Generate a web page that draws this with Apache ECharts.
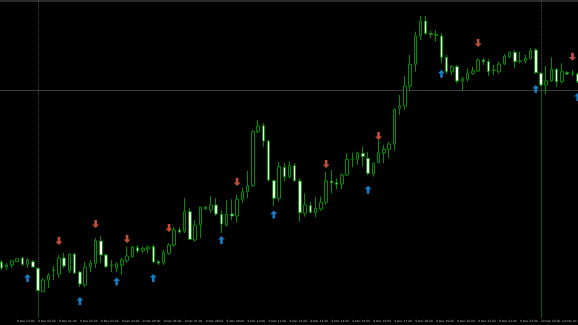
<!DOCTYPE html>
<html>
<head>
<meta charset="utf-8">
<script src="https://cdn.jsdelivr.net/npm/echarts@6/dist/echarts.min.js"></script>
<style>
html,body{margin:0;padding:0;background:#000;}
#chart{width:578px;height:325px;}
</style>
</head>
<body>
<div id="chart"></div>
<script>
// M15 candles: [open, close, low, high]
const candles = [
[63,57,55,65],[58,60,55,62],[60,64,57,65],[63.3,66.3,63,67],[67,60.7,59,68],
[60.7,65,57,67],[63.3,58,57,65],[56.7,34.3,34,58],[33.3,45,33,47],[45,50,37,52],
[54.5,55,45,59],[51,67,47,70],[67,59,57,72],[54,71,52,72],[71,52,51,72],
[53,41,38,54],[40,58,38,63],[58,62,53,65],[61.7,84.3,57,87],[84,70,62,89],
[70,58.3,57,71],[59.5,60,53,65],[57,61,53,63],[60,65,50,67],[64.3,69,62,78.3],
[68.3,78,67.5,79],[77.3,74,72,80],[74.3,76.7,71.7,78.3],[76,78,71.7,79.3],[78.3,63,61.7,80],
[63.3,61.7,60,65],[62.3,72.3,60,75],[71.7,80,70,81.7],[80,95,78.3,98.3],[95,93,91.7,97.7],
[94,113.3,92,127],[113.3,85.7,85,116.7],[85,100,83.3,105],[100,118,87,118.3],[117.5,116.5,115,119],
[115,120,112,129],[120,111,109,126.7],[110.7,101,92,115],[100,110.7,98.3,125],[111,109,105,125.7],
[109,125.7,102.3,130],[125.7,133.3,122,137.3],[133.3,139.3,127,154],[139.3,193.3,138.3,195],[193.3,199,191.7,205],
[199.3,184,178,201.7],[184,145,143.3,185],[144.3,126.7,119,145],[126.7,158.3,123.3,163.3],[157.7,148.3,143.3,161.7],
[148.3,159.3,146.7,163.3],[159.3,144.3,143.3,161.7],[144,112.3,103.3,146.7],[111.7,120,108.3,131.7],[119.3,112.7,111.7,123.3],
[112.3,116.7,107.7,127.7],[116,122.7,114.3,128.3],[122.7,144,120,153.3],[144,142.3,131.7,155],[142.3,140.7,135.7,146.7],
[141,150,135.7,151.7],[150,165.7,149,171.7],[165.7,166,157.7,172.3],[165.7,171.7,160,173.3],[171.7,168.3,158.3,178.3],
[166.7,151.7,150,173.3],[151,161.7,148.3,162.3],[162.3,172.3,161.7,185],[172.3,175.7,161.7,180],[175.7,181,166.7,183.3],
[181,215.7,175,216.7],[216.7,219,210,230],[219,239,215,249],[239,260.7,235,270],[260.7,289,253.3,293.3],
[289,304,285,309],[304,291.7,290,309],[291.7,290.7,286.7,294.3],[290.5,289.7,283.3,295],[289,267.7,261.7,291.7],
[267.7,253.3,251,270],[253.3,258.3,250,260],[258.3,244,241.7,260],[244,246,234.3,248.3],[245.7,251.7,243.3,256.7],
[251.7,254,250,258.3],[254,265,253.3,266.7],[265,263.3,260,266.7],[263.3,253.3,249,265.7],[254.7,255,250,260],
[253.3,261,251,263.3],[261,269,260,271],[268.3,272.7,266.7,273.3],[272.7,263.3,256.7,275],[263.7,264,261.7,273.3],
[264,266.7,261.7,270],[266.7,274.3,265,276.7],[275,252.3,251,276.7],[251.7,240,238.3,253],[240,244,231,259],
[244.3,255.7,243.3,267.7],[255.7,243.3,238.3,256.7],[243.3,253.3,241.7,261.7],[252.3,251,250,254],[251.7,252,249,255],
[251,243.3,242,252]
];

// time categories (M15), first bar 8 Dec 22:15
const categories = [];
(function(){
  let d = 8, h = 22, m = 15;
  for (let i = 0; i < candles.length; i++) {
    categories.push(d + ' Dec ' + String(h).padStart(2,'0') + ':' + String(m).padStart(2,'0'));
    m += 15; if (m === 60) { m = 0; h++; if (h === 24) { h = 0; d++; } }
  }
})();

// signal arrows: [bar index, price]
const buySignals  = [[5,47],[15,24],[22,43.5],[29,47],[42,85],[52,110.5],[70,135.3],[84,251.3],[102,236],[110,228]];
const sellSignals = [[11,84],[18,101],[24,86],[32,97],[45,143],[62,161],[72,189],[91,282],[109,268.3]];

const hLinePrice = 235;
const daySeparators = [7, 103];

const G = '#008e00';
const upArrow = 'path://M3.5,0 L7,3.6 L4.8,3.6 L4.8,8 L2.2,8 L2.2,3.6 L0,3.6 Z';
const downArrow = 'path://M2.2,0 L4.8,0 L4.8,4.4 L7,4.4 L3.5,8 L0,4.4 L2.2,4.4 Z';

const sepLines = [];
daySeparators.forEach(function(i){
  sepLines.push({xAxis: categories[i], lineStyle:{color:'#474747', type:[1,1], width:1}});
  sepLines.push([{coord:[categories[i], candles[i][2]]},{coord:[categories[i], 7]}]);
});

const chart = echarts.init(document.getElementById('chart'), null, {renderer:'canvas'});
chart.setOption({
  backgroundColor: '#000000',
  animation: false,
  grid: {left: -1.3, width: 581.6, top: 0, bottom: 7, containLabel: false, outerBoundsMode: 'none'},
  xAxis: {
    type: 'category',
    data: categories,
    boundaryGap: true,
    axisLine: {show: false},
    axisTick: {show: false},
    splitLine: {show: false},
    axisLabel: {
      interval: function(idx, val){ return val.slice(-3) === ':00'; },
      align: 'left',
      fontSize: 2.9,
      color: '#b8b8b8',
      margin: 1.5,
      hideOverlap: false,
      showMinLabel: true,
      fontFamily: 'DejaVu Sans'
    }
  },
  yAxis: {
    type: 'value', min: 7, max: 325, show: false,
    splitLine: {show: false}
  },
  graphic: [{
    type: 'rect', shape: {x: 0, y: 0, width: 578, height: 2},
    style: {fill: '#2c2c2c'}, silent: true
  }],
  series: [
    {
      type: 'candlestick',
      data: candles,
      barWidth: 3,
      z: 2,
      itemStyle: {color: '#000000', color0: '#ffffff', borderColor: G, borderColor0: G, borderWidth: 1},
      markLine: {
        silent: true,
        z: 1,
        symbol: 'none',
        label: {show: false},
        lineStyle: {color: '#0b5a0b', type: 'solid', width: 1},
        data: [{yAxis: hLinePrice, lineStyle: {color: '#3c3c3c', type: 'solid', width: 1}}].concat(sepLines)
      }
    },
    {
      type: 'scatter',
      data: buySignals,
      symbol: upArrow,
      symbolSize: [7, 8],
      z: 3,
      itemStyle: {color: '#1e9cf5'}
    },
    {
      type: 'scatter',
      data: sellSignals,
      symbol: downArrow,
      symbolSize: [7, 8],
      z: 3,
      itemStyle: {color: '#f2634a'}
    }
  ]
});
</script>
</body>
</html>
